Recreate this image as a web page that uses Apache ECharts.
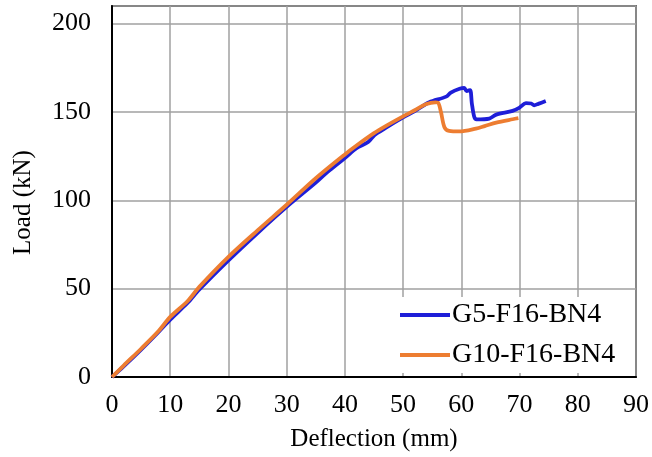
<!DOCTYPE html>
<html>
<head>
<meta charset="utf-8">
<script src="https://cdn.jsdelivr.net/npm/echarts@6/dist/echarts.min.js"></script>
<style>html,body{margin:0;padding:0;background:#fff}#c{width:652px;height:457px}</style>
</head>
<body>
<div id="c"></div>
<script>
var seriesNames = ['G5-F16-BN4', 'G10-F16-BN4'];
var xTicks = [0, 10, 20, 30, 40, 50, 60, 70, 80, 90];
var yTicks = [0, 50, 100, 150, 200];

var g5Deflection = [0, 2, 5, 8, 10, 13, 15, 20, 25, 30, 35, 37, 40, 42, 44, 45.1, 47, 50, 52, 54.5, 57.4, 58.2, 59.7, 60.5, 60.9, 61.5, 61.8, 62.2, 62.6, 64.8, 66, 68.8, 70, 71.1, 72, 72.5, 73.2, 74.5];
var g5Load       = [0, 6, 15.5, 25.5, 32.5, 42, 49.5, 66, 81.5, 96.3, 110, 116, 124, 129.5, 133, 137, 141, 146.9, 150.5, 155.5, 158.7, 161, 163.2, 163.7, 161.9, 162.4, 155, 147.5, 145.8, 146.3, 148.5, 150.6, 152.5, 155, 154.8, 153.8, 154.6, 156.2];

var g10Deflection = [0, 2, 5, 8, 10, 13, 15, 20, 25, 30, 35, 40, 42, 45, 47, 50, 52, 54, 55.5, 56, 56.5, 57.1, 57.9, 59.7, 62.5, 64, 66, 68.8, 69.8];
var g10Load       = [0, 6.5, 16, 26, 34, 43, 51, 68, 83, 97.5, 112.5, 126, 131, 138, 142, 147.5, 151, 154.5, 155.5, 155.3, 150, 141.4, 139.3, 139, 140.6, 142, 144, 145.9, 146.5];

function pairs(xs, ys) { return xs.map(function (x, i) { return [x, ys[i]]; }); }

var font = "'Liberation Serif','Times New Roman',serif";
var chart = echarts.init(document.getElementById('c'), null, {renderer: 'canvas'});
chart.setOption({
  animation: false,
  backgroundColor: '#fff',
  grid: {left: 112, right: 15, top: 6, bottom: 78, show: true, borderColor: '#000', borderWidth: 1.5, backgroundColor: 'transparent'},
  legend: {
    data: seriesNames,
    orient: 'vertical',
    left: 395, top: 297,
    backgroundColor: '#fff',
    padding: [4, 12, 4, 5],
    icon: 'rect',
    itemWidth: 50, itemHeight: 4, itemGap: 12,
    textStyle: {fontFamily: font, fontSize: 28, color: '#000', padding: [0, 0, 0, -3], lineHeight: 28}
  },
  xAxis: {
    type: 'value', min: 0, max: 90, interval: 10,
    name: 'Deflection (mm)', nameLocation: 'middle', nameGap: 50,
    nameTextStyle: {fontFamily: font, fontSize: 25, color: '#000'},
    axisLine: {show: true, onZero: false, lineStyle: {color: '#000', width: 2}},
    axisTick: {show: false},
    axisLabel: {fontFamily: font, fontSize: 26, color: '#000', margin: 15,
      formatter: function (v) { return xTicks.indexOf(v) >= 0 ? String(v) : ''; }},
    splitLine: {show: true, lineStyle: {color: '#a0a0a0', width: 1.5}}
  },
  yAxis: {
    type: 'value', min: 0, max: 210, interval: 50,
    name: 'Load (kN)', nameLocation: 'middle', nameGap: 76,
    nameTextStyle: {fontFamily: font, fontSize: 25, color: '#000', padding: [0, 0, 0, -22]},
    axisLine: {show: true, onZero: false, lineStyle: {color: '#000', width: 2}},
    axisTick: {show: false},
    axisLabel: {fontFamily: font, fontSize: 26, color: '#000', margin: 21,
      formatter: function (v) { return yTicks.indexOf(v) >= 0 ? String(v) : ''; }},
    splitLine: {show: true, lineStyle: {color: '#a0a0a0', width: 1.5}}
  },
  series: [
    {name: seriesNames[0], type: 'line', data: pairs(g5Deflection, g5Load), symbol: 'none', smooth: 0.3,
     lineStyle: {color: '#1e1ed8', width: 3.8}, itemStyle: {color: '#1e1ed8'}, z: 3},
    {name: seriesNames[1], type: 'line', data: pairs(g10Deflection, g10Load), symbol: 'none', smooth: 0.3,
     lineStyle: {color: '#ed7d31', width: 3.8}, itemStyle: {color: '#ed7d31'}, z: 4}
  ]
});
</script>
</body>
</html>
